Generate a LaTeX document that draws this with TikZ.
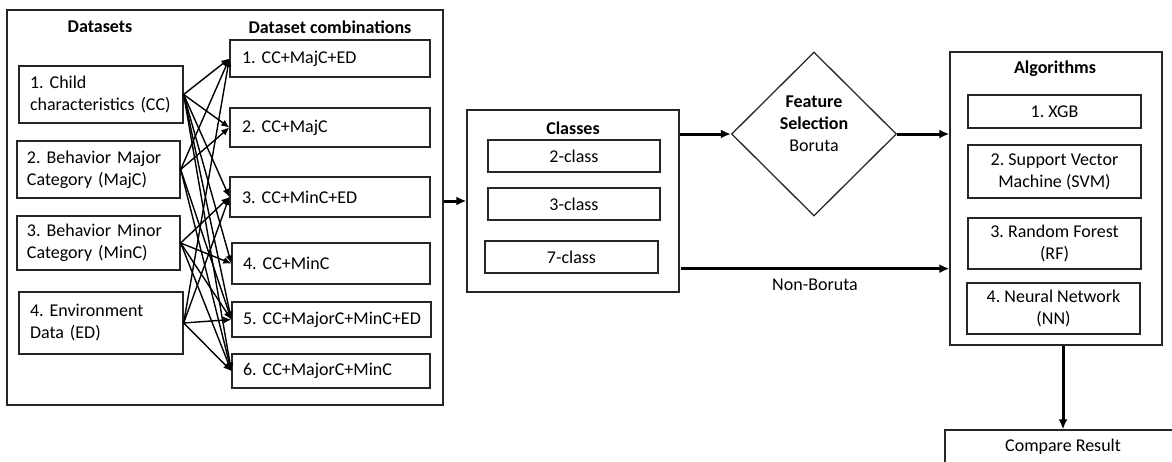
\documentclass[tikz,border=0pt]{standalone}
\usepackage{fontspec}
\setmainfont{Carlito}
\usetikzlibrary{arrows.meta,shapes.geometric,calc}
\frenchspacing
\begin{document}
\begin{tikzpicture}[x=1pt,y=-1pt,
  font=\fontsize{18}{22}\selectfont\frenchspacing,
  box/.style={draw=black!85, line width=1.3pt, inner sep=0pt, rectangle},
  lbox/.style={box, align=left},
  cbox/.style={box, align=center},
  title/.style={font=\fontsize{18}{22}\selectfont\bfseries, inner sep=0pt},
  fan/.style={line width=1.4pt, -{Latex[length=8pt,width=7pt]}},
  main/.style={line width=3pt, -{Latex[length=10pt,width=9pt]}},
]
\useasboundingbox (0,0) rectangle (1172,461);
\clip (0,0) rectangle (1172,461);

% outer box
\node[box, minimum width=436, minimum height=395] (outer) at (225,207.5) {};
\node[title] (t1) at (100,27) {Datasets};
\node[title] (t2) at (330,27) {Dataset combinations};

% datasets
\node[lbox, minimum width=164, minimum height=57, text width=142] (cc) at (101,94.5) {1. Child\\characteristics (CC)};
\node[lbox, minimum width=163, minimum height=57, text width=143] (maj) at (98.5,169.5) {2. Behavior Major\\Category (MajC)};
\node[lbox, minimum width=163, minimum height=54, text width=143] (min) at (98.5,243) {3. Behavior Minor\\Category (MinC)};
\node[lbox, minimum width=164, minimum height=62, text width=142] (ed) at (101,323) {4. Environment\\Data (ED)};

% combinations
\node[lbox, minimum width=200, minimum height=37, text width=176] (c1) at (330,58.5) {1. CC+MajC+ED};
\node[lbox, minimum width=200, minimum height=39, text width=176] (c2) at (330,127.5) {2. CC+MajC};
\node[lbox, minimum width=200, minimum height=40, text width=176] (c3) at (330,197) {3. CC+MinC+ED};
\node[lbox, minimum width=198, minimum height=41, text width=176] (c4) at (331,263.5) {4. CC+MinC};
\node[lbox, minimum width=199, minimum height=35, text width=177] (c5) at (331.5,319.5) {\mbox{5. CC+MajorC+MinC+ED}};
\node[lbox, minimum width=198, minimum height=34, text width=176] (c6) at (331,371) {6. CC+MajorC+MinC};

% fan connectors
\foreach \t in {c1,c2,c3,c4,c5,c6} \draw[fan] (cc.east) -- (\t.west);
\foreach \t in {c1,c2,c5,c6} \draw[fan] (maj.east) -- (\t.west);
\foreach \t in {c3,c4,c5,c6} \draw[fan] (min.east) -- (\t.west);
\foreach \t in {c1,c3,c5,c6} \draw[fan] (ed.east) -- (\t.west);

% classes
\node[box, minimum width=212, minimum height=182] (cls) at (573,201) {};
\node[title] (t3) at (573,128) {Classes};
\node[cbox, minimum width=172, minimum height=32] (k2) at (574,156) {2-class};
\node[cbox, minimum width=172, minimum height=32] (k3) at (574,204) {3-class};
\node[cbox, minimum width=173, minimum height=32] (k7) at (571.5,257) {7-class};

\draw[main] (outer.east |- cls.west) -- (cls.west);

% feature selection diamond
\node[draw=black!85, line width=1.3pt, diamond, minimum width=165, minimum height=164, inner sep=0pt,
  label={[yshift=10pt, align=center, inner sep=0pt]center:{\textbf{Feature}\\\textbf{Selection}\\Boruta}}] (fs) at (814,134) {};

\draw[main] (cls.east |- fs.west) -- (fs.west);

% algorithms
\node[box, minimum width=212, minimum height=293] (alg) at (1056,198.5) {};
\node[title] (t4) at (1055,69) {Algorithms};
\node[cbox, minimum width=173, minimum height=33] (a1) at (1054.5,111.5) {1. XGB};
\node[cbox, minimum width=173, minimum height=53] (a2) at (1054.5,171.5) {2. Support Vector\\Machine (SVM)};
\node[cbox, minimum width=173, minimum height=51] (a3) at (1054.5,243.5) {3. Random Forest\\(RF)};
\node[cbox, minimum width=173, minimum height=51] (a4) at (1053.5,308.5) {4. Neural Network\\(NN)};

\draw[main] (fs.east) -- (alg.west |- fs.east);

\coordinate (nbs) at ($(cls.south east)+(1,-24)$);
\draw[main] (nbs) -- (alg.west |- nbs) node[pos=0.5, below=9pt, inner sep=0pt] (nbl) {Non-Boruta};

% compare result
\node[cbox, minimum width=236, minimum height=34] (cmp) at (1063,447) {Compare Result};
\draw[main] (alg.south -| cmp.north) -- (cmp.north);
\end{tikzpicture}
\end{document}
